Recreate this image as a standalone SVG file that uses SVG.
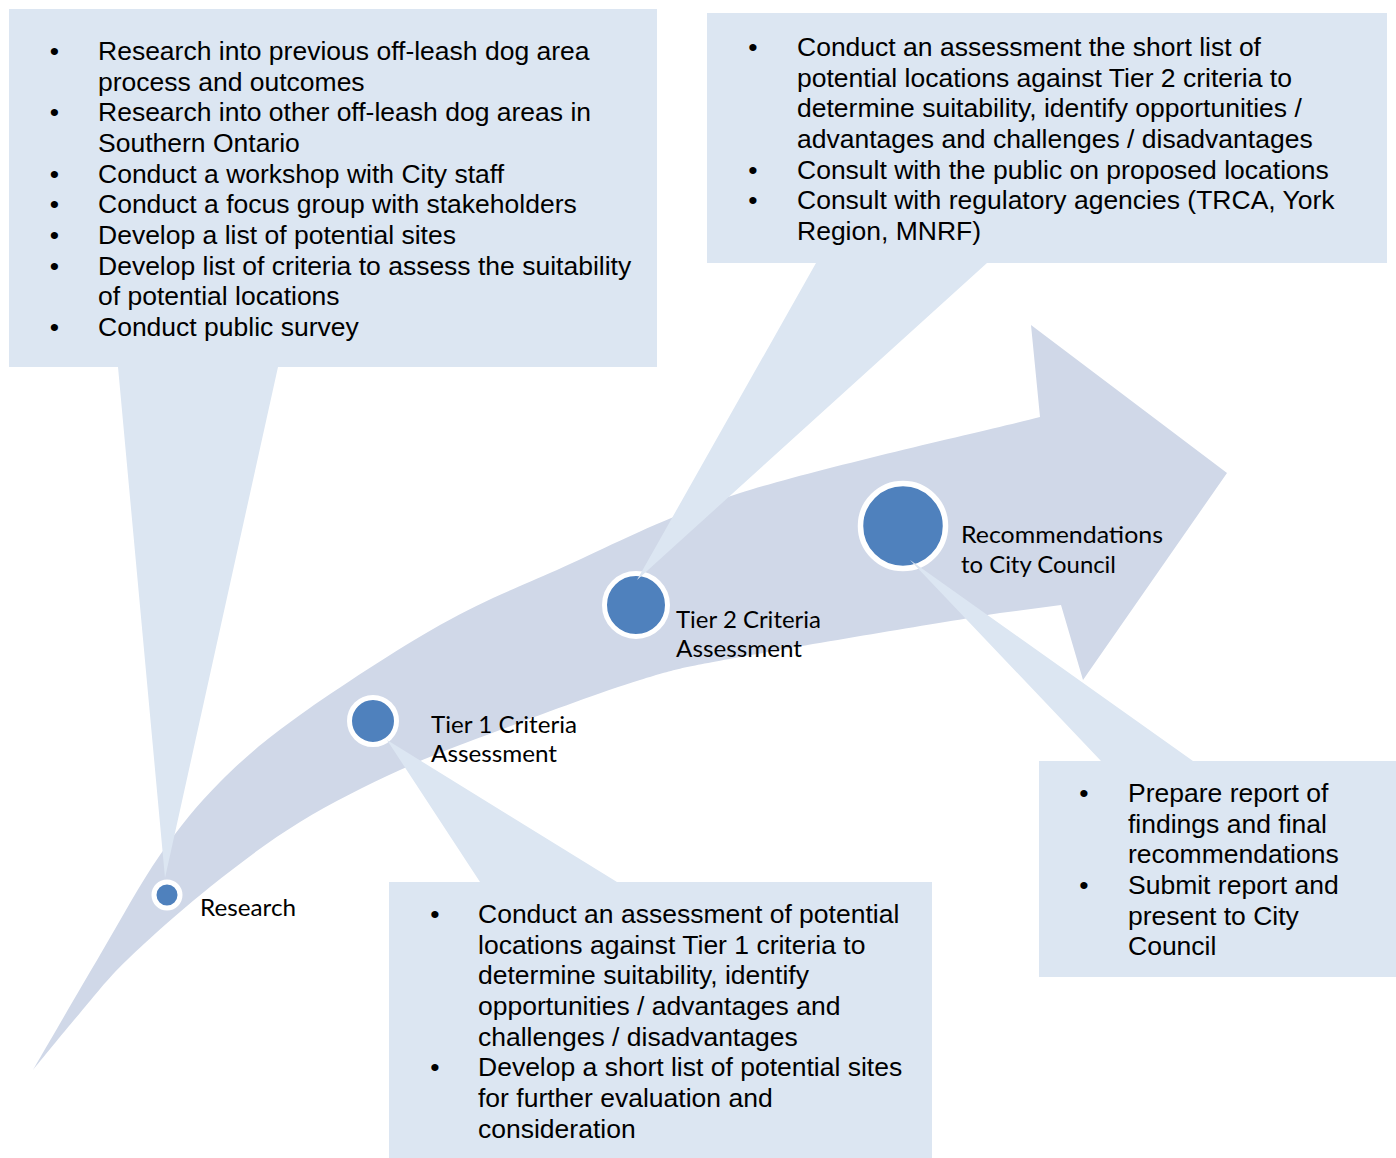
<svg xmlns="http://www.w3.org/2000/svg" width="1396" height="1158" viewBox="0 0 1396 1158">
<style>
.arrow{fill:#d0d8e8}
.callout{fill:#dce6f2}
.dot{fill:#4f81bd;stroke:#ffffff}
.body{font-family:"Liberation Sans",Arial,sans-serif;font-size:26.5px;fill:#000}
.lbl{font-family:Lato,"Liberation Sans",sans-serif;font-size:23.5px;fill:#000}
</style>
<rect width="1396" height="1158" fill="#ffffff"/>
<g id="connectors">
<path class="arrow" d="M 33 1070 C 44.2 1050.8, 78.8 990.8, 100 955 C 121.2 919.2, 140 883.8, 160 855 C 180 826.2, 196.7 805.3, 220 782 C 243.3 758.7, 263.3 741.2, 300 715 C 336.7 688.8, 397.2 649.2, 440 625 C 482.8 600.8, 507 592, 557 570 C 607 548, 659.5 518.5, 740 493 C 820.5 467.5, 990 429.7, 1040 417 L 1031 325 L 1227 473 L 1083 680 L 1061 605 L 1000 613 C 946.5 621.7, 800 645.8, 740 657 C 680 668.2, 680 667.8, 640 680 C 600 692.2, 540 715, 500 730 C 460 745, 433.3 754.7, 400 770 C 366.7 785.3, 331.7 802.5, 300 822 C 268.3 841.5, 238.8 864, 210 887 C 181.2 910, 148.7 939, 127 960 C 105.3 981, 95.7 994.7, 80 1013 C 64.3 1031.3, 40.8 1060.5, 33 1070 Z"/>
</g>
<g id="node-research">
<circle class="dot" cx="167" cy="895" r="13" stroke-width="5"/>
<text class="lbl" x="200" y="916" textLength="96" lengthAdjust="spacingAndGlyphs">Research</text>
</g>
<g id="node-tier1">
<circle class="dot" cx="373" cy="721" r="23.5" stroke-width="5"/>
<text class="lbl" x="431" y="733" textLength="146" lengthAdjust="spacingAndGlyphs">Tier 1 Criteria</text>
<text class="lbl" x="431" y="762" textLength="126" lengthAdjust="spacingAndGlyphs">Assessment</text>
</g>
<g id="node-tier2">
<circle class="dot" cx="636" cy="605" r="31.5" stroke-width="5"/>
<text class="lbl" x="676" y="628" textLength="145" lengthAdjust="spacingAndGlyphs">Tier 2 Criteria</text>
<text class="lbl" x="676" y="657" textLength="126" lengthAdjust="spacingAndGlyphs">Assessment</text>
</g>
<g id="node-recommendations">
<circle class="dot" cx="903" cy="526" r="42.5" stroke-width="5.5"/>
<text class="lbl" x="961" y="543" textLength="202" lengthAdjust="spacingAndGlyphs">Recommendations</text>
<text class="lbl" x="961" y="573" textLength="155" lengthAdjust="spacingAndGlyphs">to City Council</text>
</g>
<g id="callout-research">
<path class="callout" d="M 9 9 H 657 V 367 H 278 L 165 878 L 118 367 H 9 Z"/>
<text class="body">
<tspan x="54.5" y="60" text-anchor="middle">•</tspan><tspan x="98" y="60">Research into previous off-leash dog area</tspan>
<tspan x="98" y="91">process and outcomes</tspan>
<tspan x="54.5" y="121" text-anchor="middle">•</tspan><tspan x="98" y="121">Research into other off-leash dog areas in</tspan>
<tspan x="98" y="152">Southern Ontario</tspan>
<tspan x="54.5" y="183" text-anchor="middle">•</tspan><tspan x="98" y="183">Conduct a workshop with City staff</tspan>
<tspan x="54.5" y="213" text-anchor="middle">•</tspan><tspan x="98" y="213">Conduct a focus group with stakeholders</tspan>
<tspan x="54.5" y="244" text-anchor="middle">•</tspan><tspan x="98" y="244">Develop a list of potential sites</tspan>
<tspan x="54.5" y="275" text-anchor="middle">•</tspan><tspan x="98" y="275">Develop list of criteria to assess the suitability</tspan>
<tspan x="98" y="305">of potential locations</tspan>
<tspan x="54.5" y="336" text-anchor="middle">•</tspan><tspan x="98" y="336">Conduct public survey</tspan>
</text>
</g>
<g id="callout-tier2">
<path class="callout" d="M 707 13 H 1387 V 263 H 987 L 637 580 L 816 263 H 707 Z"/>
<text class="body">
<tspan x="753" y="56" text-anchor="middle">•</tspan><tspan x="797" y="56">Conduct an assessment the short list of</tspan>
<tspan x="797" y="87">potential locations against Tier 2 criteria to</tspan>
<tspan x="797" y="117">determine suitability, identify opportunities /</tspan>
<tspan x="797" y="148">advantages and challenges / disadvantages</tspan>
<tspan x="753" y="179" text-anchor="middle">•</tspan><tspan x="797" y="179">Consult with the public on proposed locations</tspan>
<tspan x="753" y="209" text-anchor="middle">•</tspan><tspan x="797" y="209">Consult with regulatory agencies (TRCA, York</tspan>
<tspan x="797" y="240">Region, MNRF)</tspan>
</text>
</g>
<g id="callout-tier1">
<path class="callout" d="M 389 882 H 480 L 387 740 L 617 882 H 932 V 1158 H 389 Z"/>
<text class="body">
<tspan x="435" y="923" text-anchor="middle">•</tspan><tspan x="478" y="923">Conduct an assessment of potential</tspan>
<tspan x="478" y="954">locations against Tier 1 criteria to</tspan>
<tspan x="478" y="984">determine suitability, identify</tspan>
<tspan x="478" y="1015">opportunities / advantages and</tspan>
<tspan x="478" y="1046">challenges / disadvantages</tspan>
<tspan x="435" y="1076" text-anchor="middle">•</tspan><tspan x="478" y="1076">Develop a short list of potential sites</tspan>
<tspan x="478" y="1107">for further evaluation and</tspan>
<tspan x="478" y="1138">consideration</tspan>
</text>
</g>
<g id="callout-recommendations">
<path class="callout" d="M 1039 761 H 1101 L 910 560 L 1193 761 H 1396 V 977 H 1039 Z"/>
<text class="body">
<tspan x="1084" y="802" text-anchor="middle">•</tspan><tspan x="1128" y="802">Prepare report of</tspan>
<tspan x="1128" y="833">findings and final</tspan>
<tspan x="1128" y="863">recommendations</tspan>
<tspan x="1084" y="894" text-anchor="middle">•</tspan><tspan x="1128" y="894">Submit report and</tspan>
<tspan x="1128" y="925">present to City</tspan>
<tspan x="1128" y="955">Council</tspan>
</text>
</g>
</svg>
